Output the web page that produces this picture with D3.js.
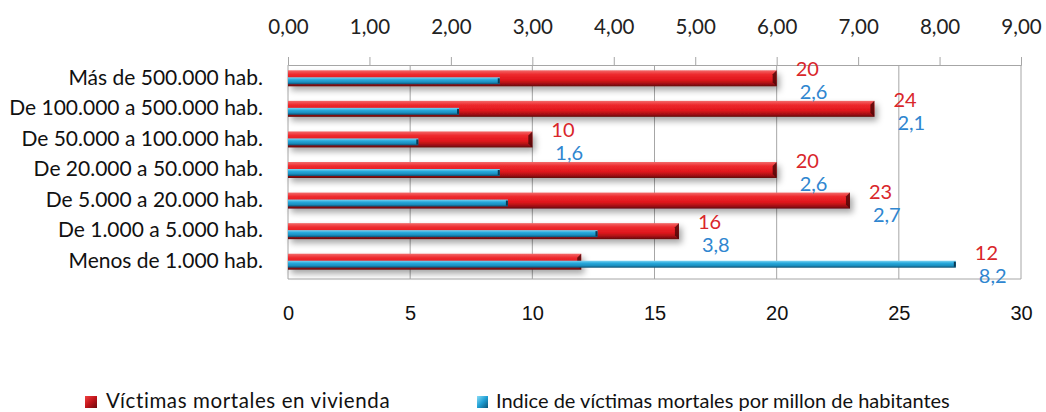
<!DOCTYPE html>
<html><head><meta charset="utf-8">
<script src="https://cdn.jsdelivr.net/npm/d3@7"></script>
<style>body{margin:0;background:#fff}svg{display:block}</style>
</head><body>
<svg id="c" width="1046" height="412"></svg>
<script>
const categories = ["Más de 500.000 hab.","De 100.000 a 500.000 hab.","De 50.000 a 100.000 hab.","De 20.000 a 50.000 hab.","De 5.000 a 20.000 hab.","De 1.000 a 5.000 hab.","Menos de 1.000 hab."];
const victims = [20,24,10,20,23,16,12];
const indexValues = [2.6,2.1,1.6,2.6,2.7,3.8,8.2];
const victimTicks = [0,5,10,15,20,25,30];
const indexTicks = [0,1,2,3,4,5,6,7,8,9];
const seriesNames = ["Víctimas mortales en vivienda","Indice de víctimas mortales por millon de habitantes"];

const svg = d3.select("#c");
const L=288, R=1021, T=65, B=279;
const xV = d3.scaleLinear().domain([0,30]).range([L,R]);
const xI = d3.scaleLinear().domain([0,9]).range([L,R]);
const y = d3.scaleBand().domain(categories).range([T,B]);
const font = "Lato, 'Open Sans', sans-serif";

const defs = svg.append("defs");
const gr = defs.append("linearGradient").attr("id","gRed").attr("x1",0).attr("y1",0).attr("x2",0).attr("y2",1);
[[0,"#f26a6a"],[0.25,"#ee2a2e"],[0.6,"#e0161c"],[0.85,"#a01014"],[1,"#5e0a0c"]].forEach(s=>gr.append("stop").attr("offset",s[0]).attr("stop-color",s[1]));
const gb = defs.append("linearGradient").attr("id","gBlue").attr("x1",0).attr("y1",0).attr("x2",0).attr("y2",1);
[[0,"#7fd4f2"],[0.35,"#27a9dc"],[0.7,"#1a8fc0"],[1,"#0d4f70"]].forEach(s=>gb.append("stop").attr("offset",s[0]).attr("stop-color",s[1]));
const gl = defs.append("linearGradient").attr("id","gLegR").attr("x1",0).attr("y1",0).attr("x2",1).attr("y2",1);
[[0,"#f04040"],[0.5,"#c0141a"],[1,"#6a0a0c"]].forEach(s=>gl.append("stop").attr("offset",s[0]).attr("stop-color",s[1]));
const glb = defs.append("linearGradient").attr("id","gLegB").attr("x1",0).attr("y1",0).attr("x2",1).attr("y2",1);
[[0,"#8adcf6"],[0.5,"#1f9fd4"],[1,"#0c5478"]].forEach(s=>glb.append("stop").attr("offset",s[0]).attr("stop-color",s[1]));
const f = defs.append("filter").attr("id","sh").attr("x","-5%").attr("y","-50%").attr("width","115%").attr("height","250%");
f.append("feDropShadow").attr("dx",3).attr("dy",4).attr("stdDeviation",3).attr("flood-color","#000").attr("flood-opacity",0.35);

// gridlines
svg.append("g").selectAll("line").data(victimTicks.filter(d=>d>0&&d<30)).join("line")
  .attr("x1",d=>xV(d)).attr("x2",d=>xV(d)).attr("y1",T).attr("y2",B)
  .attr("stroke","#a6a6a6").attr("stroke-width",1);

// top axis (index)
const topAx = svg.append("g").attr("transform",`translate(0,${T})`)
  .call(d3.axisTop(xI).tickValues(indexTicks).tickSize(8).tickPadding(23).tickFormat(d=>d.toFixed(2).replace(".",",")));
topAx.select(".domain").attr("stroke","#a6a6a6");
topAx.selectAll(".tick line").attr("stroke","#a6a6a6");
topAx.selectAll("text").attr("font-family",font).attr("font-size",20.5).attr("fill","#222");

// plot border
svg.append("line").attr("x1",L).attr("x2",L).attr("y1",T).attr("y2",B).attr("stroke","#a6a6a6");
svg.append("line").attr("x1",R).attr("x2",R).attr("y1",T).attr("y2",B).attr("stroke","#a6a6a6");
svg.append("line").attr("x1",L).attr("x2",R).attr("y1",B).attr("y2",B).attr("stroke","#a6a6a6");

// bottom axis (victims)
const botAx = svg.append("g").attr("transform",`translate(0,${B})`)
  .call(d3.axisBottom(xV).tickValues(victimTicks).tickSize(0).tickPadding(27));
botAx.select(".domain").remove();
botAx.selectAll("text").attr("font-family","'Liberation Sans Narrow', 'Liberation Sans', sans-serif").attr("font-size",20).attr("fill","#111");

// category labels
svg.append("g").selectAll("text").data(categories).join("text")
  .attr("x",263).attr("y",d=>y(d)+y.bandwidth()/2-3).attr("dy","0.35em")
  .attr("text-anchor","end").attr("font-family",font).attr("font-size",21).attr("fill","#111").text(d=>d);

const cy = d => y(d)+y.bandwidth()/2;
// red bars
svg.append("g").attr("filter","url(#sh)").selectAll("rect").data(categories).join("rect")
  .attr("x",L).attr("y",d=>cy(d)-10).attr("height",16)
  .attr("width",(d,i)=>xV(victims[i])-L).attr("fill","url(#gRed)");
// red bar end caps
svg.append("g").selectAll("path").data(categories).join("path")
  .attr("d",(d,i)=>{const x=xV(victims[i]), t=cy(d)-10; return `M${x-4},${t+4}L${x},${t}L${x},${t+16}L${x-4},${t+12}Z`;})
  .attr("fill","#4a0607").attr("opacity",0.8);
// blue bars
svg.append("g").selectAll("rect").data(categories).join("rect")
  .attr("x",L).attr("y",d=>cy(d)-3).attr("height",7)
  .attr("width",(d,i)=>xI(indexValues[i])-L).attr("fill","url(#gBlue)");
svg.append("g").selectAll("rect").data(categories).join("rect")
  .attr("x",(d,i)=>xI(indexValues[i])-2).attr("y",d=>cy(d)-2).attr("height",5).attr("width",2)
  .attr("fill","#0a3a55");

// labels
const lx = i => Math.max(xV(victims[i]), xI(indexValues[i])) + 19;
svg.append("g").selectAll("text").data(categories).join("text")
  .attr("x",(d,i)=>lx(i)).attr("y",d=>cy(d)-11).attr("dy","0.35em")
  .attr("font-family",font).attr("font-size",20).attr("fill","#d9262b")
  .text((d,i)=>victims[i]);
svg.append("g").selectAll("text").data(categories).join("text")
  .attr("x",(d,i)=>lx(i)+4).attr("y",d=>cy(d)+12).attr("dy","0.35em")
  .attr("font-family",font).attr("font-size",20).attr("fill","#2f86d0")
  .text((d,i)=>String(indexValues[i]).replace(".",","));

// legend
const leg = svg.append("g");
leg.append("rect").attr("x",85).attr("y",396).attr("width",12).attr("height",12).attr("fill","url(#gLegR)");
leg.append("text").attr("x",106).attr("y",408).attr("font-family",font).attr("font-size",20.5).attr("letter-spacing",0.6).attr("fill","#111").text(seriesNames[0]);
leg.append("rect").attr("x",477).attr("y",396).attr("width",11).attr("height",12).attr("fill","url(#gLegB)");
leg.append("text").attr("x",496).attr("y",408).attr("font-family",font).attr("font-size",20).attr("fill","#111").text(seriesNames[1]);
</script>
</body></html>
